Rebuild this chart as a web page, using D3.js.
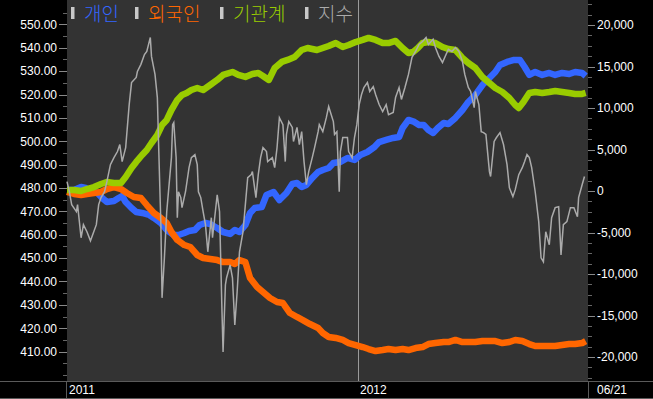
<!DOCTYPE html>
<html lang="ko">
<head>
    <meta charset="UTF-8">
    <title>투자자별 누적 순매수</title>
    <script src="https://d3js.org/d3.v7.min.js"></script>
    <style>
        html, body { margin: 0; padding: 0; background: #000; }
        svg { display: block; }
        .tick-label { font-family: "Liberation Sans Narrow", "Liberation Sans", Arial, sans-serif; font-size: 12px; fill: #fff; }
        .legend-label { font-family: "Noto Sans CJK KR", sans-serif; font-size: 19px; font-weight: 300; }
    </style>
</head>
<body>
<svg width="653" height="399"></svg>
<script>
// 지수 (왼쪽 축), 거래일 기준 [일, 값]
const indexSeries = [
    [0,482.7],[2,478.4],[4,472.9],[8,469.9],[9,472.9],[12,458.7],[14,464.3],[17,461.3],[20,457.4],[25,464.3],
    [27,472.9],[29,475.9],[32,478.4],[34,482.7],[37,490.0],[40,493.0],[43,495.6],[45,498.6],[47,491.3],[50,497.3],
    [53,515.7],[55,525.1],[59,527.3],[60,529.9],[63,532.9],[66,537.1],[68,538.4],[71,544.4],[72,536.3],[75,528.6],
    [77,518.7],[78,499.9],[80,464.3],[81,433.0],[83,450.1],[85,469.9],[89,493.0],[90,507.1],[91,508.0],[93,493.0],
    [94,467.3],[95,478.4],[97,475.9],[98,471.6],[101,478.4],[104,488.7],[106,493.0],[109,494.3],[111,490.0],[112,478.4],
    [114,475.9],[116,469.9],[118,464.3],[120,452.7],[123,467.3],[124,458.7],[128,477.1],[130,469.9],[132,428.7],[133,409.8],
    [135,438.6],[136,441.6],[139,447.1],[141,441.6],[143,421.4],[145,435.6],[147,452.7],[150,461.3],[152,472.9],[154,484.4],
    [157,485.7],[158,487.0],[161,475.9],[163,485.7],[165,493.0],[167,497.3],[170,495.6],[171,491.3],[175,493.0],[177,488.7],
    [179,497.3],[181,510.1],[184,507.1],[186,491.3],[187,502.9],[189,508.4],[192,505.9],[193,499.9],[196,505.9],[198,498.6],
    [200,504.1],[202,491.3],[204,481.4],[206,487.0],[209,493.0],[211,497.3],[214,504.1],[215,507.1],[218,504.1],[221,510.1],
    [223,514.9],[227,508.4],[228,502.9],[230,504.1],[232,478.4],[233,495.6],[235,501.6],[239,501.6],[240,495.6],[243,493.0],
    [245,501.6],[247,507.1],[249,515.7],[251,520.0],[253,523.0],[256,525.1],[258,521.3],[261,523.4],[263,520.0],[266,515.7],
    [269,512.7],[272,515.7],[274,511.4],[278,512.3],[280,518.7],[283,523.0],[285,517.9],[288,523.0],[291,528.6],[294,535.9],
    [297,538.4],[300,541.4],[303,542.7],[306,544.4],[308,541.4],[312,543.6],[314,540.1],[317,536.3],[320,533.7],[323,537.1],
    [325,539.3],[328,538.4],[331,540.1],[334,538.4],[337,534.1],[339,528.6],[342,523.0],[344,521.3],[347,514.4],[348,521.3],
    [351,515.7],[353,504.1],[355,503.7],[357,502.9],[360,487.0],[361,484.9],[364,499.9],[366,501.6],[369,503.7],[372,498.6],
    [375,490.0],[377,480.1],[380,476.3],[382,479.3],[385,485.7],[388,488.7],[390,491.3],[392,494.3],[394,493.0],[396,488.7],
    [399,478.4],[402,465.6],[404,450.1],[406,448.4],[408,461.3],[411,455.7],[413,467.3],[416,471.6],[419,472.0],[421,451.4],
    [423,464.3],[426,465.6],[429,471.6],[432,471.6],[435,467.7],[436,475.9],[439,481.4],[441,484.9]
];

// 개인 누적 순매수 (오른쪽 축)
const retail = [
    [0,120],[6,120],[12,480],[16,360],[20,0],[26,-240],[30,-840],[34,-1330],[40,-1200],[44,-840],[47,-600],[50,-1330],
    [55,-2050],[59,-2530],[64,-2650],[70,-2890],[74,-3250],[80,-3860],[85,-4700],[91,-5300],[95,-5300],[100,-5060],
    [104,-4820],[109,-4700],[113,-4100],[118,-3860],[122,-3980],[128,-4460],[133,-4940],[139,-5180],[143,-4700],[147,-4940],
    [152,-4100],[156,-2650],[160,-2050],[166,-1930],[170,-480],[176,-120],[181,-1090],[187,-240],[192,840],[196,960],
    [200,480],[204,720],[209,1570],[214,2290],[218,2530],[223,2770],[227,3370],[233,3500],[239,3980],[245,3740],
    [250,4340],[256,4700],[262,5300],[266,5900],[272,6150],[278,6390],[283,6510],[286,7590],[291,8560],[296,8320],
    [300,7950],[304,7950],[308,7350],[312,6990],[316,7590],[321,8190],[325,8070],[331,8800],[337,9760],[342,10730],
    [348,11570],[354,12770],[360,13620],[365,14340],[369,15180],[375,15550],[381,15790],[386,15790],[390,14940],[394,13980],
    [399,14340],[405,13980],[411,14220],[416,13980],[422,14220],[428,14100],[433,14340],[439,14220],[442,13860]
];

// 외국인 누적 순매수
const foreign = [
    [0,-120],[6,-360],[12,-480],[17,-360],[23,-240],[29,-120],[34,240],[40,480],[46,240],[51,-240],[57,-720],[63,-840],
    [68,-1690],[74,-2650],[80,-3250],[85,-3860],[89,-4940],[94,-5900],[100,-6510],[105,-6750],[111,-7710],[116,-8070],
    [122,-8190],[128,-8320],[133,-8560],[139,-8560],[143,-8800],[147,-8320],[152,-8560],[156,-10480],[162,-11570],[167,-12170],
    [173,-12890],[179,-13380],[184,-13500],[190,-14700],[196,-15180],[201,-15550],[207,-16030],[214,-16510],[218,-17110],
    [223,-17590],[229,-17710],[235,-17950],[240,-18320],[246,-18560],[252,-18800],[257,-19040],[263,-19280],[269,-19160],
    [274,-19040],[280,-19160],[286,-19040],[291,-19160],[297,-18920],[303,-18800],[308,-18440],[314,-18320],[321,-18200],
    [325,-18200],[331,-17950],[337,-18200],[342,-18200],[348,-18200],[354,-18080],[360,-18080],[365,-18080],[371,-18320],
    [377,-18200],[382,-17950],[388,-18080],[394,-18440],[399,-18680],[405,-18680],[411,-18680],[416,-18680],[422,-18560],
    [428,-18440],[433,-18440],[439,-18320],[442,-18080]
];

// 기관계 누적 순매수
const institution = [
    [0,120],[6,120],[12,0],[17,240],[23,480],[29,840],[34,1090],[40,960],[46,960],[50,1690],[55,2770],[59,3500],
    [64,4340],[68,4940],[72,5780],[77,6750],[81,7950],[85,8560],[89,9760],[94,10970],[98,11570],[102,11810],[106,12170],
    [111,12410],[116,12170],[122,12770],[128,13380],[133,13980],[141,14340],[146,13980],[152,13740],[158,14100],[163,14220],
    [167,13860],[172,13380],[177,14820],[183,15550],[188,15790],[194,16150],[200,16990],[205,17230],[213,16990],[218,17230],
    [223,17470],[229,17830],[235,17350],[240,17590],[246,17950],[252,18200],[257,18440],[263,18200],[269,17830],[274,17830],
    [280,18080],[286,17230],[291,16630],[295,16750],[299,17230],[303,17830],[308,17950],[314,17830],[320,17350],[325,17110],
    [331,16990],[337,16030],[342,15420],[348,14820],[354,13740],[360,13010],[365,12410],[371,11930],[377,11210],[382,10360],
    [385,10000],[389,10730],[394,11810],[399,11930],[405,11810],[411,11930],[416,12050],[422,11930],[428,11810],[433,11690],
    [439,11690],[442,11810]
];

const legendNames = ["개인", "외국인", "기관계", "지수"];
const leftTicks = d3.range(410, 551, 10);
const rightTicks = d3.range(-20000, 20001, 5000);
const xTickLabels = [{ day: 0, label: "2011" }, { day: 248, label: "2012" }];
const lastDateLabel = "06/21";
const dayCount = 444;

const svg = d3.select("svg");
const W = 653, H = 399;
const plot = { left: 67, right: 588, top: 0, bottom: 381 };

const x = d3.scaleLinear().domain([0, dayCount]).range([plot.left, plot.right]);
const yLeft = d3.scaleLinear().domain([410, 550]).range([351.6, 24.4]);
const yRight = d3.scaleLinear().domain([-20000, 20000]).range([357, 25]);

// 배경
svg.append("rect").attr("width", W).attr("height", H).attr("fill", "#000");
svg.append("rect")
    .attr("x", plot.left).attr("y", plot.top)
    .attr("width", plot.right - plot.left).attr("height", plot.bottom - plot.top)
    .attr("fill", "#333333");

// 구분선
const sep = svg.append("g").attr("stroke", "#5a5a5a").attr("stroke-width", 1);
sep.append("line").attr("x1", 0).attr("x2", W).attr("y1", plot.bottom + 0.5).attr("y2", plot.bottom + 0.5);
sep.append("line").attr("x1", plot.left - 0.5).attr("x2", plot.left - 0.5).attr("y1", plot.bottom).attr("y2", H);
sep.append("line").attr("x1", plot.right + 0.5).attr("x2", plot.right + 0.5).attr("y1", plot.bottom).attr("y2", H);
sep.append("line").attr("x1", 0).attr("x2", W).attr("y1", H - 0.5).attr("y2", H - 0.5);

// 왼쪽 축
const leftAxis = svg.append("g");
leftAxis.selectAll("line.minor")
    .data(d3.range(400, 561, 5).filter(v => yLeft(v) > 2 && yLeft(v) < plot.bottom - 2))
    .enter().append("line")
    .attr("x1", plot.left - 4).attr("x2", plot.left)
    .attr("y1", d => Math.round(yLeft(d)) + 0.5).attr("y2", d => Math.round(yLeft(d)) + 0.5)
    .attr("stroke", "#666");
leftAxis.selectAll("line.major")
    .data(leftTicks).enter().append("line")
    .attr("x1", plot.left - 8).attr("x2", plot.left)
    .attr("y1", d => Math.round(yLeft(d)) + 0.5).attr("y2", d => Math.round(yLeft(d)) + 0.5)
    .attr("stroke", "#888");
leftAxis.selectAll("text")
    .data(leftTicks).enter().append("text")
    .attr("class", "tick-label")
    .attr("x", plot.left - 10).attr("y", d => yLeft(d))
    .attr("dy", "0.36em").attr("text-anchor", "end")
    .text(d => d3.format(".2f")(d));

// 오른쪽 축
const rightAxis = svg.append("g");
rightAxis.selectAll("line.minor")
    .data(d3.range(-22500, 22501, 1250).filter(v => yRight(v) > 2 && yRight(v) < plot.bottom - 2))
    .enter().append("line")
    .attr("x1", plot.right).attr("x2", plot.right + 4)
    .attr("y1", d => Math.round(yRight(d)) + 0.5).attr("y2", d => Math.round(yRight(d)) + 0.5)
    .attr("stroke", "#666");
rightAxis.selectAll("line.major")
    .data(rightTicks).enter().append("line")
    .attr("x1", plot.right).attr("x2", plot.right + 7)
    .attr("y1", d => Math.round(yRight(d)) + 0.5).attr("y2", d => Math.round(yRight(d)) + 0.5)
    .attr("stroke", "#888");
rightAxis.selectAll("text")
    .data(rightTicks).enter().append("text")
    .attr("class", "tick-label")
    .attr("x", plot.right + 9).attr("y", d => yRight(d))
    .attr("dy", "0.36em")
    .text(d => d3.format(",")(d).replace("−", "-"));

// 연도 경계선과 날짜
svg.append("line")
    .attr("x1", Math.round(x(248)) + 0.5).attr("x2", Math.round(x(248)) + 0.5)
    .attr("y1", plot.top).attr("y2", plot.bottom)
    .attr("stroke", "#9a9a9a").attr("stroke-width", 1);
svg.selectAll("text.xlab")
    .data(xTickLabels).enter().append("text")
    .attr("class", "tick-label xlab")
    .attr("x", d => x(d.day) + 2).attr("y", 394)
    .text(d => d.label);
svg.append("text").attr("class", "tick-label")
    .attr("x", plot.right + 9).attr("y", 394)
    .text(lastDateLabel);

// 선
const lineRight = d3.line().x(d => x(d[0])).y(d => yRight(d[1]));
const lineLeft = d3.line().x(d => x(d[0])).y(d => yLeft(d[1]));
const colors = { retail: "#3366ff", foreign: "#ff6600", institution: "#99cc00", index: "#ababab" };

svg.append("path").datum(retail).attr("d", lineRight)
    .attr("fill", "none").attr("stroke", colors.retail).attr("stroke-width", 6.5).attr("stroke-linejoin", "round");
svg.append("path").datum(foreign).attr("d", lineRight)
    .attr("fill", "none").attr("stroke", colors.foreign).attr("stroke-width", 6.5).attr("stroke-linejoin", "round");
svg.append("path").datum(institution).attr("d", lineRight)
    .attr("fill", "none").attr("stroke", colors.institution).attr("stroke-width", 6.5).attr("stroke-linejoin", "round");
svg.append("path").datum(indexSeries).attr("d", lineLeft)
    .attr("fill", "none").attr("stroke", colors.index).attr("stroke-width", 1.5);

// 범례
const legendColors = [colors.retail, colors.foreign, colors.institution, colors.index];
const legendX = [71, 135, 220, 305];
const legend = svg.append("g");
legendNames.forEach((name, i) => {
    legend.append("rect")
        .attr("x", legendX[i]).attr("y", 7).attr("width", 3.5).attr("height", 12)
        .attr("fill", "#c8c8c8");
    legend.append("text")
        .attr("class", "legend-label")
        .attr("x", legendX[i] + 13).attr("y", 21)
        .attr("fill", legendColors[i])
        .text(name);
});
</script>
</body>
</html>
